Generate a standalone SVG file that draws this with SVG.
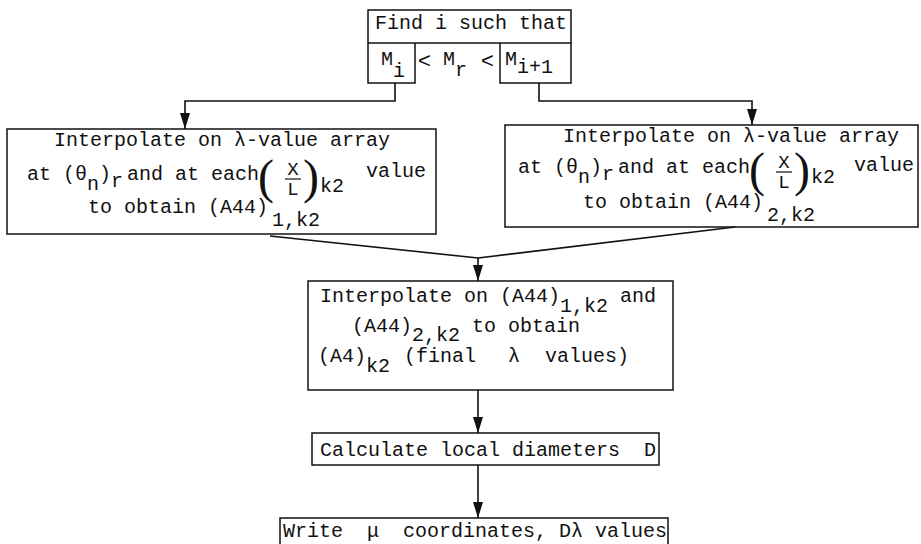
<svg xmlns="http://www.w3.org/2000/svg" width="921" height="544" viewBox="0 0 921 544">
<style>
.box{fill:none;stroke:#111;stroke-width:1.5}
.t{font-family:"Liberation Mono","DejaVu Sans Mono",monospace;font-size:20px;fill:#111}
.s{font-family:"Liberation Sans",Arial,sans-serif;font-size:22px;fill:#111}
.p{font-family:"Liberation Serif","Times New Roman",serif;font-size:48px;fill:#111}
.f{font-family:"Liberation Mono","DejaVu Sans Mono",monospace;font-size:19px;fill:#111}
.c{fill:none;stroke:#111;stroke-width:1.6}
</style>
<defs>
<marker id="ah" viewBox="0 0 16 10" refX="16" refY="5" markerWidth="16" markerHeight="10" markerUnits="userSpaceOnUse" orient="auto">
<path d="M0,0 L16,5 L0,10 z" fill="#111"/>
</marker>
</defs>

<g id="find">
<rect class="box" x="368" y="10" width="203" height="33"/>
<path class="box" d="M368,43 V83 H415 V43 M571,43 V83 H500 V43"/>
<text class="t" x="375" y="29">Find i such that</text>
<text class="t" x="381" y="65">M</text>
<text class="t" x="393" y="77">i</text>
<text class="s" x="418" y="68">&lt;</text>
<text class="t" x="443" y="65">M</text>
<text class="t" x="455" y="76">r</text>
<text class="s" x="481" y="68">&lt;</text>
<text class="t" x="505" y="65">M</text>
<text class="t" x="517" y="73">i+1</text>
</g>

<g id="interp1">
<rect class="box" x="7" y="129" width="429" height="105"/>
<text class="t" x="222" y="146" text-anchor="middle">Interpolate on λ-value array</text>
<text class="t" x="27" y="180">at (θ</text>
<text class="t" x="87" y="190">n</text>
<text class="t" x="99" y="180">)</text>
<text class="t" x="111" y="187">r</text>
<text class="t" x="127" y="180">and at each</text>
<text class="p" x="258" y="193">(</text>
<text class="f" x="293" y="175" text-anchor="middle">X</text>
<line x1="285" y1="179" x2="301" y2="179" stroke="#111" stroke-width="1.2"/>
<text class="f" x="293" y="195" text-anchor="middle">L</text>
<text class="p" x="303" y="193">)</text>
<text class="t" x="320" y="192">k2</text>
<text class="t" x="366" y="177">value</text>
<text class="t" x="88" y="213">to obtain (A44)</text>
<text class="t" x="272" y="226">1,k2</text>
</g>

<g id="interp2">
<rect class="box" x="505" y="125" width="413" height="102"/>
<text class="t" x="731" y="142" text-anchor="middle">Interpolate on λ-value array</text>
<text class="t" x="518" y="173">at (θ</text>
<text class="t" x="578" y="183">n</text>
<text class="t" x="590" y="173">)</text>
<text class="t" x="602" y="180">r</text>
<text class="t" x="618" y="173">and at each</text>
<text class="p" x="749" y="186">(</text>
<text class="f" x="784" y="168" text-anchor="middle">X</text>
<line x1="776" y1="172" x2="792" y2="172" stroke="#111" stroke-width="1.2"/>
<text class="f" x="784" y="188" text-anchor="middle">L</text>
<text class="p" x="794" y="186">)</text>
<text class="t" x="811" y="183">k2</text>
<text class="t" x="854" y="171">value</text>
<text class="t" x="583" y="208">to obtain (A44)</text>
<text class="t" x="767" y="221">2,k2</text>
</g>

<g id="interp3">
<rect class="box" x="308" y="281" width="365" height="109"/>
<text class="t" x="320" y="302">Interpolate on (A44)</text>
<text class="t" x="560" y="312">1,k2</text>
<text class="t" x="620" y="302">and</text>
<text class="t" x="352" y="332">(A44)</text>
<text class="t" x="412" y="341">2,k2</text>
<text class="t" x="472" y="332">to obtain</text>
<text class="t" x="318" y="362">(A4)</text>
<text class="t" x="366" y="372">k2</text>
<text class="t" x="404" y="362">(final</text>
<text class="t" x="508" y="362">λ</text>
<text class="t" x="545" y="362">values)</text>
</g>

<g id="calc">
<rect class="box" x="312" y="433" width="347" height="32"/>
<text class="t" x="320" y="456" xml:space="preserve">Calculate local diameters  D</text>
</g>

<g id="write">
<rect class="box" x="280" y="518" width="388" height="32"/>
<text class="t" x="283" y="537" xml:space="preserve">Write  μ  coordinates, Dλ values</text>
</g>

<g id="connectors">
<path class="c" d="M395,83 V101 H185 V129" marker-end="url(#ah)"/>
<path class="c" d="M539,83 V101 H752 V125" marker-end="url(#ah)"/>
<path class="c" d="M270,236 L478,258 L735,227"/>
<path class="c" d="M478,258 V281" marker-end="url(#ah)"/>
<path class="c" d="M478,390 V433" stroke-width="2" marker-end="url(#ah)"/>
<path class="c" d="M478,465 V518" stroke-width="2" marker-end="url(#ah)"/>
</g>
</svg>
